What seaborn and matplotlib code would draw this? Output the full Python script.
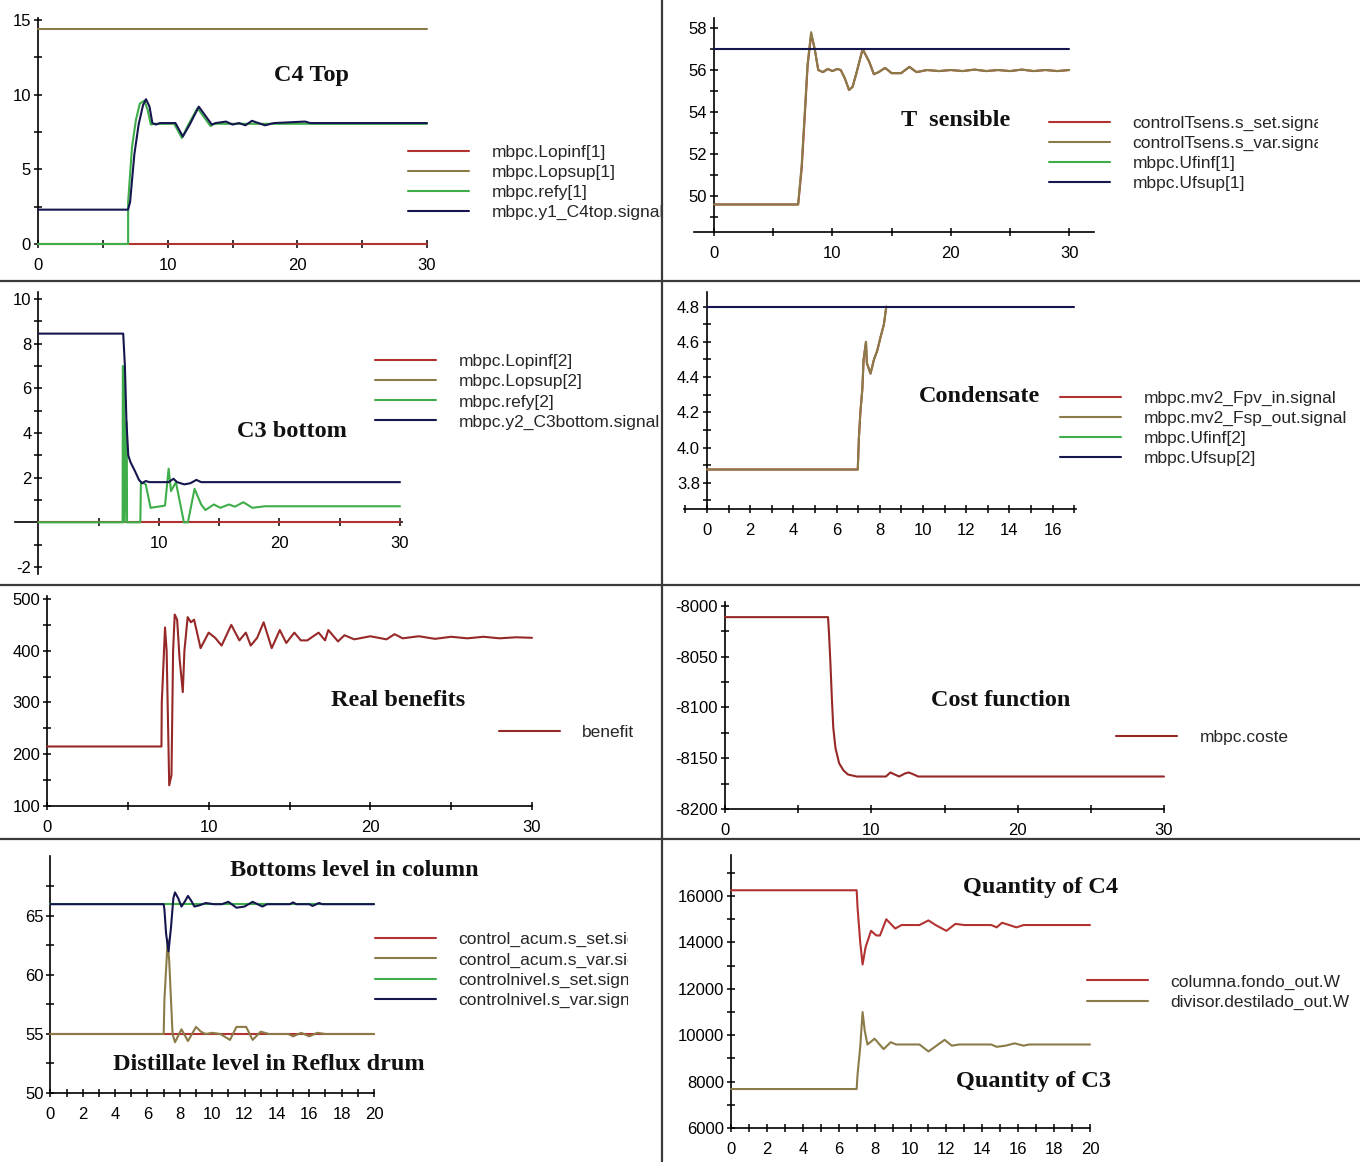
import matplotlib
matplotlib.use("Agg")
import matplotlib.pyplot as plt
from matplotlib import font_manager
from matplotlib.font_manager import FontProperties
from matplotlib.lines import Line2D
from matplotlib.ticker import FixedLocator, FuncFormatter, NullFormatter
from matplotlib.transforms import Bbox, TransformedBbox
import seaborn as sns

# ---------------------------------------------------------------- data
# C4 Top
c4_t_lim = [0, 30]
c4_lopinf = [0, 0]
c4_lopsup = [14.4, 14.4]
c4_refy_t = [0, 6.95, 6.95, 7.25, 7.55, 7.85, 8.2, 8.45, 8.7, 9.0, 10.5, 11.1,
             11.6, 12.3, 12.8, 13.3, 13.6, 30]
c4_refy = [0, 0, 2.8, 6.5, 8.3, 9.4, 9.6, 9.0, 8.0, 8.05, 8.05, 7.1,
           8.0, 9.1, 8.5, 7.9, 8.05, 8.05]
c4_y1_t = [0, 6.94, 7.1, 7.43, 7.76, 8.1, 8.33, 8.6, 8.82, 9.1, 9.4, 10.6, 11.17,
           11.7, 12.4, 12.9, 13.4, 13.7, 14.5, 15.0, 15.5, 16.0, 16.5, 17.0, 17.5,
           18.2, 20.6, 21.0, 30]
c4_y1 = [2.3, 2.3, 2.8, 6.0, 8.0, 9.3, 9.7, 9.2, 8.1, 8.0, 8.1, 8.1, 7.2,
         8.0, 9.2, 8.6, 8.0, 8.1, 8.2, 8.0, 8.1, 7.95, 8.25, 8.1, 7.95,
         8.1, 8.2, 8.1, 8.1]

# T sensible
ts_t_lim = [0, 30]
ts_t = [0, 7.1, 7.4, 7.66, 7.9, 8.2, 8.5, 8.8, 9.2, 9.6, 10.0, 10.4, 10.7, 11.05,
        11.4, 11.7, 12.0, 12.55, 13.1, 13.5, 13.9, 14.45, 15.0, 15.8, 16.5, 17.1,
        18.0, 19.0, 20.0, 21.0, 22.0, 23.0, 24.0, 25.0, 26.0, 27.0, 28.0, 29.0, 30.0]
ts_var = [49.6, 49.6, 51.5, 54.0, 56.3, 57.8, 57.0, 56.0, 55.9, 56.05, 55.95, 56.05,
          56.0, 55.6, 55.05, 55.2, 55.8, 57.0, 56.4, 55.8, 55.9, 56.1, 55.85, 55.85,
          56.15, 55.9, 56.0, 55.95, 56.0, 55.95, 56.02, 55.95, 56.0, 55.95, 56.02,
          55.95, 56.0, 55.95, 56.0]
ts_set = [49.6, 49.6, 51.3, 53.8, 56.2, 57.7, 57.0, 56.0, 55.9, 56.05, 55.95, 56.05,
          56.0, 55.6, 55.05, 55.2, 55.8, 57.0, 56.4, 55.8, 55.9, 56.1, 55.85, 55.85,
          56.15, 55.9, 56.0, 55.95, 56.0, 55.95, 56.02, 55.95, 56.0, 55.95, 56.02,
          55.95, 56.0, 55.95, 56.0]
ts_ufinf = [48.0, 48.0]
ts_ufsup = [57.0, 57.0]

# C3 bottom
c3_t_lim = [0, 30]
c3_lopinf = [0, 0]
c3_lopsup = [12, 12]
c3_y2_t = [0, 7.03, 7.17, 7.3, 7.45, 7.63, 8.0, 8.34, 8.6, 8.9, 9.2, 10.8, 11.2,
           11.5, 12.1, 12.6, 13.1, 13.5, 30]
c3_y2 = [8.45, 8.45, 7.0, 4.5, 3.0, 2.7, 2.3, 1.9, 1.75, 1.85, 1.8, 1.8, 1.95,
         1.8, 1.7, 1.75, 1.9, 1.8, 1.8]
c3_refy_t = [0, 6.98, 7.0, 7.12, 7.15, 7.32, 7.35, 8.45, 8.5, 8.9, 9.3, 10.5, 10.8,
             11.0, 11.4, 11.7, 12.07, 12.4, 12.95, 13.5, 13.85, 14.55, 15.1, 15.8,
             16.3, 17.0, 17.75, 18.8, 30]
c3_refy = [0, 0, 7.0, 6.8, 0, 4.5, 0, 0, 1.8, 1.7, 0.65, 0.75, 2.4,
           1.4, 1.8, 1.0, 0.0, 0.0, 1.5, 0.8, 0.55, 0.8, 0.65, 0.8,
           0.7, 0.9, 0.65, 0.72, 0.72]

# Condensate
cd_t_lim = [0, 17]
cd_t = [0, 6.98, 7.03, 7.1, 7.19, 7.25, 7.36, 7.4, 7.57, 7.73, 7.88, 8.02, 8.19, 8.3]
cd_fpv = [3.875, 3.875, 4.05, 4.2, 4.33, 4.5, 4.6, 4.48, 4.42, 4.5, 4.55, 4.62, 4.7, 4.8]
cd_fsp = [3.875, 3.875, 4.05, 4.2, 4.33, 4.5, 4.6, 4.48, 4.42, 4.5, 4.55, 4.62, 4.7, 4.8]
cd_ufinf = [3.6, 3.6]
cd_ufsup = [4.8, 4.8]

# Real benefits
bn_t = [0, 7.08, 7.1, 7.3, 7.4, 7.56, 7.7, 7.8, 7.9, 8.05, 8.2, 8.4, 8.5, 8.7, 8.9,
        9.1, 9.5, 10.0, 10.4, 10.8, 11.4, 11.9, 12.3, 12.6, 13.0, 13.4, 13.9, 14.4,
        14.8, 15.3, 15.7, 16.1, 16.8, 17.2, 17.4, 18.0, 18.4, 19.0, 20.0, 21.0,
        21.5, 22.0, 23.0, 24.0, 25.0, 26.0, 27.0, 28.0, 29.0, 30.0]
bn_val = [215, 215, 300, 445, 400, 140, 160, 400, 470, 460, 385, 320, 400, 465, 455,
          460, 405, 435, 425, 410, 450, 420, 435, 410, 425, 455, 405, 440,
          415, 435, 420, 420, 435, 420, 440, 418, 430, 422, 428, 422,
          432, 424, 428, 423, 427, 424, 427, 424, 426, 425]

# Cost function
cf_t = [0, 7.04, 7.1, 7.2, 7.3, 7.4, 7.55, 7.8, 8.1, 8.4, 9.0, 11.0, 11.3, 11.6,
        11.9, 12.3, 12.55, 12.9, 13.2, 30]
cf_val = [-8011, -8011, -8025, -8055, -8090, -8120, -8140, -8155, -8162, -8166,
          -8168, -8168, -8164, -8166, -8168, -8165, -8164, -8166, -8168, -8168]

# Bottoms level / distillate level
lv_t_lim = [0, 20]
lv_acum_set = [55, 55]
lv_acum_t = [0, 7.0, 7.05, 7.25, 7.35, 7.55, 7.7, 8.1, 8.5, 9.0, 9.3, 9.6, 10.0,
             10.5, 11.1, 11.5, 12.1, 12.5, 13.0, 13.5, 14.7, 15.0, 15.5, 16.0,
             16.5, 17.0, 20]
lv_acum_var = [55, 55, 58, 63.0, 61, 55, 54.3, 55.4, 54.4, 55.6, 55.2, 55.0, 55.1,
               55.0, 54.5, 55.6, 55.6, 54.5, 55.2, 55.0, 55.0, 54.8, 55.1, 54.8,
               55.1, 55.0, 55.0]
lv_nivel_set = [66, 66]
lv_nivel_t = [0, 7.0, 7.05, 7.15, 7.3, 7.45, 7.6, 7.7, 7.9, 8.1, 8.3, 8.5, 8.7, 8.9,
              9.2, 9.6, 10.1, 10.6, 11.0, 11.5, 12.0, 12.5, 13.1, 13.4, 14.8, 15.0,
              15.2, 16.0, 16.2, 16.6, 16.8, 20]
lv_nivel_var = [66, 66, 65.5, 63.5, 62.0, 64.0, 66.5, 67.0, 66.5, 65.8, 66.2, 66.7,
                66.3, 65.8, 65.9, 66.1, 66.0, 66.0, 66.2, 65.7, 65.8, 66.2, 65.8,
                66.0, 66.0, 66.15, 66.0, 66.0, 65.85, 66.1, 66.0, 66.0]

# Quantity of C4 / C3
qt_fondo_t = [0, 7.0, 7.05, 7.2, 7.33, 7.5, 7.8, 8.1, 8.3, 8.65, 9.15, 9.5, 10.5,
              11.0, 11.4, 12.0, 12.5, 13.0, 14.5, 14.8, 15.1, 15.5, 15.9, 16.3, 20]
qt_fondo = [16250, 16250, 15500, 14000, 13050, 13800, 14500, 14300, 14300, 15000,
            14600, 14750, 14750, 14950, 14750, 14500, 14800, 14750, 14750, 14650,
            14850, 14750, 14650, 14750, 14750]
qt_dest_t = [0, 7.0, 7.05, 7.2, 7.33, 7.45, 7.6, 8.0, 8.5, 8.9, 9.2, 10.5, 11.0,
             11.9, 12.3, 12.7, 14.5, 14.8, 15.3, 15.8, 16.3, 16.6, 20]
qt_dest = [7680, 7680, 8300, 9500, 11000, 10200, 9600, 9850, 9400, 9700, 9600,
           9600, 9300, 9800, 9550, 9600, 9600, 9500, 9550, 9650, 9550, 9600, 9600]

# ---------------------------------------------------------------- style
sns.set_theme(style="white")


def has_font(name):
    try:
        font_manager.findfont(FontProperties(family=name), fallback_to_default=False)
        return True
    except Exception:
        return False


NARROW = has_font("Liberation Sans Narrow")
SANS = "Liberation Sans Narrow" if NARROW else "Liberation Sans"
TICK_FS = 14 if NARROW else 12
LEG_FS = 14 if NARROW else 12.5
plt.rcParams["font.family"] = [SANS, "DejaVu Sans"]
plt.rcParams["axes.unicode_minus"] = False

RED = "#b23232"
OLIVE = "#8a7b48"
GREEN = "#3fae4a"
NAVY = "#16164f"
DARKRED = "#962828"
LW = 1.5

W, H = 1360, 1162
fig = plt.figure(figsize=(W / 100, H / 100), dpi=100)
fig.patch.set_facecolor("white")


def add_ax(x0, x1, y_top, y_bot):
    return fig.add_axes([x0 / W, 1 - y_bot / H, (x1 - x0) / W, (y_bot - y_top) / H])


def style_ax(ax, xlim, ylim, xmaj, xmin, ymaj, ymin, fmt="{:g}",
             spine_x=None, spine_y=None):
    ax.set_xlim(*xlim)
    ax.set_ylim(*ylim)
    ax.set_facecolor("none")
    for s in ("top", "right"):
        ax.spines[s].set_visible(False)
    for s in ("left", "bottom"):
        ax.spines[s].set_color("black")
        ax.spines[s].set_linewidth(1.2)
        ax.spines[s].set_zorder(2)
    if spine_x is not None:
        ax.spines["left"].set_position(("data", spine_x))
    if spine_y is not None:
        ax.spines["bottom"].set_position(("data", spine_y))
    ax.xaxis.set_major_locator(FixedLocator(xmaj))
    ax.xaxis.set_minor_locator(FixedLocator(xmin))
    ax.yaxis.set_major_locator(FixedLocator(ymaj))
    ax.yaxis.set_minor_locator(FixedLocator(ymin))
    ax.xaxis.set_major_formatter(FuncFormatter(lambda v, p: "{:g}".format(v)))
    ax.yaxis.set_major_formatter(FuncFormatter(lambda v, p: fmt.format(v)))
    ax.xaxis.set_minor_formatter(NullFormatter())
    ax.yaxis.set_minor_formatter(NullFormatter())
    ax.tick_params(which="both", direction="inout", length=6, width=1.1,
                   color="black", labelsize=TICK_FS, labelcolor="black",
                   bottom=True, left=True, top=False, right=False)
    ax.tick_params(axis="x", which="both", pad=7)
    ax.tick_params(axis="y", which="both", pad=2)
    ax.set_xlabel("")
    ax.set_ylabel("")
    ax.grid(False)


def draw(ax, t, v, color, label, clip=False, lw=LW):
    sns.lineplot(x=t, y=v, ax=ax, color=color, label=label, estimator=None,
                 sort=False, linewidth=lw, legend=False)
    ln = ax.lines[-1]
    ln.set_label(label)
    ln.set_clip_on(clip)
    ln.set_zorder(3)
    return ln


def legend(ax, x_px, y_px, clip_x=None):
    handles = ax.lines
    labels = [h.get_label() for h in handles]
    leg = ax.legend(handles, labels, loc="center left",
                    bbox_to_anchor=(x_px / W, 1 - y_px / H),
                    bbox_transform=fig.transFigure, frameon=False,
                    fontsize=LEG_FS, handlelength=3.5, handletextpad=1.3,
                    labelspacing=0.28, borderpad=0, borderaxespad=0)
    for h in leg.legend_handles:
        h.set_linewidth(LW)
    if clip_x is not None:
        box = TransformedBbox(Bbox.from_extents(0, 0, clip_x / W, 1), fig.transFigure)
        for txt in leg.get_texts():
            txt.set_clip_on(True)
            txt.set_clip_box(box)
    return leg


def title(x_px, y_px, text):
    fig.text(x_px / W, 1 - y_px / H, text, ha="center", va="center",
             family="Liberation Serif", weight="bold", fontsize=17.5, color="#111111")


# ---------------------------------------------------------------- C4 Top
ax = add_ax(38, 427, 17.8, 244)
draw(ax, c4_t_lim, c4_lopinf, RED, "mbpc.Lopinf[1]")
draw(ax, c4_t_lim, c4_lopsup, OLIVE, "mbpc.Lopsup[1]")
draw(ax, c4_refy_t, c4_refy, GREEN, "mbpc.refy[1]")
draw(ax, c4_y1_t, c4_y1, NAVY, "mbpc.y1_C4top.signal")
style_ax(ax, (0, 30), (0, 15.15), [0, 10, 20, 30], [5, 15, 25],
         [0, 5, 10, 15], [2.5, 7.5, 12.5])
legend(ax, 408, 182.5)
title(311, 75, "C4 Top")

# ---------------------------------------------------------------- T sensible
ax = add_ax(694, 1094, 17.5, 232)
draw(ax, ts_t, ts_set, RED, "controlTsens.s_set.signal")
draw(ax, ts_t, ts_var, OLIVE, "controlTsens.s_var.signal")
draw(ax, ts_t_lim, ts_ufinf, GREEN, "mbpc.Ufinf[1]", clip=True)
draw(ax, ts_t_lim, ts_ufsup, NAVY, "mbpc.Ufsup[1]")
style_ax(ax, (-1.7, 32.1), (48.29, 58.5), [0, 10, 20, 30], [5, 15, 25],
         [50, 52, 54, 56, 58], [49, 51, 53, 55, 57], spine_x=0)
legend(ax, 1049, 153.5, clip_x=1318)
title(956, 120, "T  sensible")

# ---------------------------------------------------------------- C3 bottom
ax = add_ax(15, 401.8, 292.3, 573.7)
draw(ax, c3_t_lim, c3_lopinf, RED, "mbpc.Lopinf[2]")
draw(ax, c3_t_lim, c3_lopsup, OLIVE, "mbpc.Lopsup[2]", clip=True)
draw(ax, c3_refy_t, c3_refy, GREEN, "mbpc.refy[2]")
draw(ax, c3_y2_t, c3_y2, NAVY, "mbpc.y2_C3bottom.signal")
style_ax(ax, (-1.95, 30.15), (-2.3, 10.3), [10, 20, 30], [5, 15, 25],
         [-2, 2, 4, 6, 8, 10], [-1, 1, 3, 5, 7, 9], spine_x=0, spine_y=0)
legend(ax, 375, 392)
title(292, 431, "C3 bottom")

# ---------------------------------------------------------------- Condensate
ax = add_ax(684.3, 1076.4, 291.7, 509.3)
draw(ax, cd_t, cd_fpv, RED, "mbpc.mv2_Fpv_in.signal")
draw(ax, cd_t, cd_fsp, OLIVE, "mbpc.mv2_Fsp_out.signal")
draw(ax, cd_t_lim, cd_ufinf, GREEN, "mbpc.Ufinf[2]", clip=True)
draw(ax, cd_t_lim, cd_ufsup, NAVY, "mbpc.Ufsup[2]")
style_ax(ax, (-1.05, 17.1), (3.649, 4.885), list(range(0, 17, 2)),
         list(range(-1, 18, 2)), [3.8, 4.0, 4.2, 4.4, 4.6, 4.8],
         [3.7, 3.9, 4.1, 4.3, 4.5, 4.7], fmt="{:.1f}", spine_x=0)
legend(ax, 1060, 428.5)
title(980, 397, "Condensate")

# ---------------------------------------------------------------- Real benefits
ax = add_ax(47, 532, 596.4, 806)
draw(ax, bn_t, bn_val, DARKRED, "benefit")
style_ax(ax, (0, 30), (100, 505), [0, 10, 20, 30], [5, 15, 25],
         [100, 200, 300, 400, 500], [150, 250, 350, 450])
legend(ax, 499, 732)
title(398, 700, "Real benefits")

# ---------------------------------------------------------------- Cost function
ax = add_ax(725, 1164, 601.9, 809)
draw(ax, cf_t, cf_val, DARKRED, "mbpc.coste")
style_ax(ax, (0, 30), (-8200, -7996), [0, 10, 20, 30], [5, 15, 25],
         [-8200, -8150, -8100, -8050, -8000], [-8175, -8125, -8075, -8025])
legend(ax, 1116, 737)
title(1001, 700, "Cost function")

# ---------------------------------------------------------------- Levels
ax = add_ax(50.4, 374, 855.8, 1093)
draw(ax, lv_t_lim, lv_acum_set, RED, "control_acum.s_set.signal")
draw(ax, lv_acum_t, lv_acum_var, OLIVE, "control_acum.s_var.signal")
draw(ax, lv_t_lim, lv_nivel_set, GREEN, "controlnivel.s_set.signal")
draw(ax, lv_nivel_t, lv_nivel_var, NAVY, "controlnivel.s_var.signal")
style_ax(ax, (0, 20), (50, 70.1), list(range(0, 21, 2)), list(range(1, 20, 2)),
         [50, 55, 60, 65], [52.5, 57.5, 62.5, 67.5])
legend(ax, 375, 970, clip_x=628)
title(354, 871, "Bottoms level in column")
title(269, 1065, "Distillate level in Reflux drum")

# ---------------------------------------------------------------- Quantities
ax = add_ax(731, 1090, 855, 1128)
draw(ax, qt_fondo_t, qt_fondo, RED, "columna.fondo_out.W")
draw(ax, qt_dest_t, qt_dest, OLIVE, "divisor.destilado_out.W")
style_ax(ax, (0, 20), (6000, 17770), list(range(0, 21, 2)), list(range(1, 20, 2)),
         [6000, 8000, 10000, 12000, 14000, 16000], [7000, 9000, 11000, 13000,
                                                    15000, 17000])
legend(ax, 1087, 992)
title(1041, 888, "Quantity of C4")
title(1034, 1082, "Quantity of C3")

# ---------------------------------------------------------------- separators
SEP = "#3a3a3a"
for y in (281, 585, 839):
    fig.add_artist(Line2D([0, 1], [1 - y / H, 1 - y / H], transform=fig.transFigure,
                          color=SEP, lw=1.6))
fig.add_artist(Line2D([662 / W, 662 / W], [0, 1], transform=fig.transFigure,
                      color=SEP, lw=1.6))

fig.savefig("out.png", dpi=100, facecolor="white")
